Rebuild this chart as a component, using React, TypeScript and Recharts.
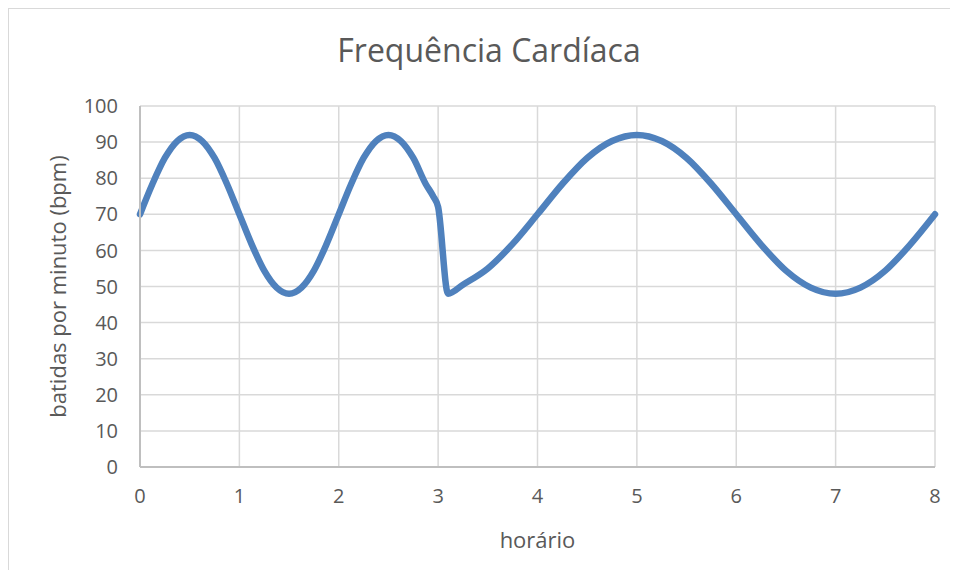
import React from "react";
import { LineChart, Line, XAxis, YAxis, CartesianGrid, Label } from "recharts";

const hours: number[] = [
  0, 0.125, 0.25, 0.375, 0.5, 0.625, 0.75, 0.875, 1, 1.125, 1.25, 1.375, 1.5,
  1.625, 1.75, 1.875, 2, 2.125, 2.25, 2.375, 2.5, 2.625, 2.75, 2.875, 2.95, 3.0,
  3.1, 3.25, 3.5, 3.75, 4, 4.25, 4.5, 4.75, 5, 5.25, 5.5, 5.75, 6, 6.25, 6.5,
  6.75, 7, 7.25, 7.5, 7.75, 8,
];
const bpm: number[] = [
  70, 78.4, 85.6, 90.3, 92, 90.3, 85.6, 78.4, 70, 61.6, 54.4, 49.7, 48,
  49.7, 54.4, 61.6, 70, 78.4, 85.6, 90.3, 92, 90.3, 85.6, 78.4, 75, 72,
  48, 50.5, 55, 61.8, 70, 78.4, 85.6, 90.3, 92, 90.3, 85.6, 78.4, 70, 61.6, 54.4,
  49.7, 48, 49.7, 54.4, 61.6, 70,
];
const xTicks: number[] = [0, 1, 2, 3, 4, 5, 6, 7, 8];
const yTicks: number[] = [0, 10, 20, 30, 40, 50, 60, 70, 80, 90, 100];

const titleText = "Frequência Cardíaca";
const xTitle = "horário";
const yTitle = "batidas por minuto (bpm)";

const data = hours.map((h, i) => ({ h, v: bpm[i] }));

const FONT = "'Open Sans', 'Noto Sans', sans-serif";

export default function App() {
  return (
    <div
      style={{
        position: "relative",
        margin: -8,
        width: 958,
        height: 578,
        overflow: "hidden",
        background: "#ffffff",
        fontFamily: FONT,
      }}
    >
      <div
        style={{
          position: "absolute",
          left: 0,
          top: 30,
          width: 978,
          textAlign: "center",
          fontSize: 32,
          color: "#595959",
          lineHeight: "40px",
        }}
      >
        {titleText}
      </div>
      <div style={{ position: "absolute", left: 0, top: 0 }}>
        <LineChart
          width={958}
          height={578}
          data={data}
          margin={{ top: 106, right: 23, bottom: 0, left: 0 }}
        >
          <CartesianGrid stroke="#d9d9d9" strokeWidth={1.5} />
          <XAxis
            dataKey="h"
            type="number"
            domain={[0, 8]}
            ticks={xTicks}
            interval={0}
            height={111}
            axisLine={{ stroke: "#bfbfbf", strokeWidth: 2 }}
            tickLine={false}
            tickSize={0}
            tickMargin={22}
            tick={{ fill: "#595959", fontSize: 20, fontFamily: FONT }}
          >
            <Label
              value={xTitle}
              position="insideBottom"
              offset={30}
              style={{ fill: "#595959", fontSize: 22, fontFamily: FONT }}
            />
          </XAxis>
          <YAxis
            type="number"
            domain={[0, 100]}
            ticks={yTicks}
            interval={0}
            width={140}
            axisLine={{ stroke: "#bfbfbf", strokeWidth: 2 }}
            tickLine={false}
            tickSize={0}
            tickMargin={22}
            tick={{ fill: "#595959", fontSize: 20, fontFamily: FONT }}
          >
            <Label
              value={yTitle}
              angle={-90}
              position="insideLeft"
              offset={58}
              style={{ fill: "#595959", fontSize: 22, fontFamily: FONT, textAnchor: "middle" }}
            />
          </YAxis>
          <Line
            type="monotone"
            dataKey="v"
            stroke="#4f81bd"
            strokeWidth={6.5}
            dot={false}
            isAnimationActive={false}
            strokeLinecap="round"
            strokeLinejoin="round"
          />
        </LineChart>
      </div>
      <div
        style={{
          position: "absolute",
          left: 7,
          top: 7,
          width: 2,
          height: 600,
          background: "#d9d9d9",
          zIndex: 2,
        }}
      />
      <div
        style={{
          position: "absolute",
          left: 7,
          top: 7,
          width: 1000,
          height: 2,
          background: "#d9d9d9",
          zIndex: 2,
        }}
      />
      <div style={{ position: "absolute", left: 288, top: 0, width: 3, height: 6, background: "#000", zIndex: 3 }} />
      <div style={{ position: "absolute", left: 830, top: 0, width: 3, height: 6, background: "#000", zIndex: 3 }} />
    </div>
  );
}
